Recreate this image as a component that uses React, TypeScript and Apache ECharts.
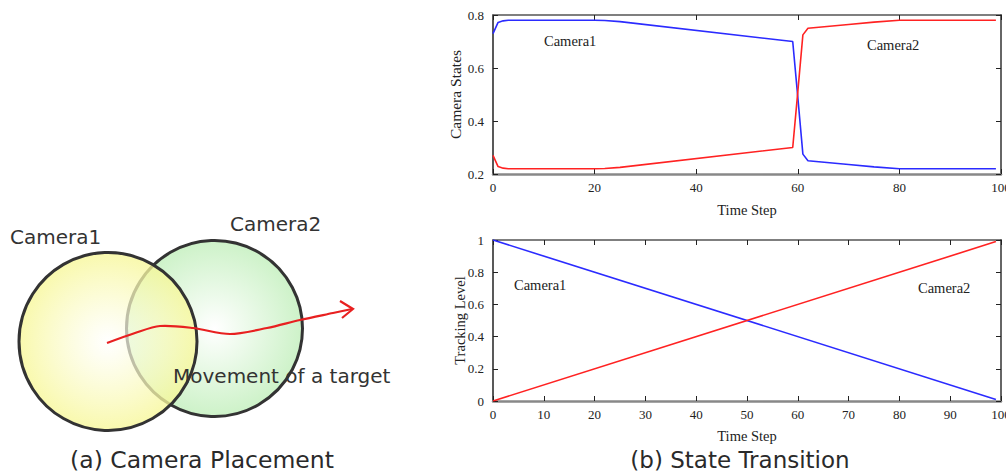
import React, { useEffect, useRef } from "react";
import * as echarts from "echarts";

// ---- data ----
const stateSteps = [0, 1, 2, 3, 20, 22, 25, 59, 60, 61, 62, 70, 75, 80, 99];
const camera1State = [0.73, 0.772, 0.778, 0.78, 0.78, 0.779, 0.775, 0.7, 0.49, 0.275, 0.25, 0.236, 0.227, 0.22, 0.22];
const camera2State = [0.27, 0.228, 0.222, 0.22, 0.22, 0.221, 0.225, 0.3, 0.51, 0.725, 0.75, 0.764, 0.773, 0.78, 0.78];

const levelSteps = [0, 99];
const camera1Level = [1, 0.01];
const camera2Level = [0, 0.99];

const stateYTicks = { min: 0.2, max: 0.8, interval: 0.2 };
const levelYTicks = { min: 0, max: 1, interval: 0.2 };
const stateXTicks = { min: 0, max: 100, interval: 20 };
const levelXTicks = { min: 0, max: 100, interval: 10 };

const BLUE = "#2b2bff";
const RED = "#ff2222";
const SERIF = "Liberation Serif";
const SANS = "DejaVu Sans";

function pairs(xs: number[], ys: number[]) {
  return xs.map((x, i) => [x, ys[i]]);
}

export default function App() {
  const ref = useRef<HTMLDivElement>(null);
  useEffect(() => {
    if (!ref.current) return;
    const chart = echarts.init(ref.current, undefined, { renderer: "svg" });

    const tickLabel = { color: "#222", fontFamily: SERIF, fontSize: 13 };
    const nameStyle = (fontSize: number) => ({ color: "#222", fontFamily: SERIF, fontSize });
    const tick = { inside: true, length: 5, lineStyle: { color: "#222", width: 1 } };

    const mkX = (grid: number, t: any, name?: string, gap?: number) => [
      {
        gridIndex: grid, type: "value", ...t, position: "bottom",
        axisLine: { onZero: false, lineStyle: { color: "#888", width: 2.5 } },
        axisTick: tick, splitLine: { show: false },
        axisLabel: { ...tickLabel, margin: 7 },
        name, nameLocation: "middle", nameGap: gap, nameTextStyle: nameStyle(14.5),
        nameMoveOverlap: false,
      },
      {
        gridIndex: grid, type: "value", ...t, position: "top",
        axisLine: { onZero: false, lineStyle: { color: "#555", width: 1.5 } },
        axisTick: tick, splitLine: { show: false }, axisLabel: { show: false },
      },
    ];
    const mkY = (grid: number, t: any, name: string, gap: number, fs: number) => [
      {
        gridIndex: grid, type: "value", ...t, position: "left",
        axisLine: { onZero: false, lineStyle: { color: "#222", width: 1.5 } },
        axisTick: tick, splitLine: { show: false },
        axisLabel: { ...tickLabel, margin: 9 },
        name, nameLocation: "middle", nameGap: gap, nameTextStyle: nameStyle(fs),
        nameMoveOverlap: false,
      },
      {
        gridIndex: grid, type: "value", ...t, position: "right",
        axisLine: { onZero: false, lineStyle: { color: "#666", width: 2 } },
        axisTick: tick, splitLine: { show: false }, axisLabel: { show: false },
      },
    ];

    const line = (xi: number, yi: number, data: number[][], color: string) => ({
      type: "line", xAxisIndex: xi, yAxisIndex: yi, data, showSymbol: false, symbol: "none",
      lineStyle: { color, width: 1.6 }, itemStyle: { color },
    });

    const txt = (x: number, y: number, text: string, fontSize: number, fontFamily: string, extra: any = {}) => ({
      type: "text", x, y, z: 100,
      style: { text, fontSize, fontFamily, fill: "#222", textVerticalAlign: "middle", ...extra },
    });

    chart.setOption({
      animation: false,
      backgroundColor: "#ffffff",
      grid: [
        { left: 493, top: 15, width: 508, height: 159, outerBoundsMode: "none", containLabel: false },
        { left: 493, top: 240, width: 508, height: 161, outerBoundsMode: "none", containLabel: false },
      ],
      xAxis: [...mkX(0, stateXTicks, "Time Step", 28), ...mkX(1, levelXTicks, "Time Step", 27)],
      yAxis: [...mkY(0, stateYTicks, "Camera States", 30, 15.5), ...mkY(1, levelYTicks, "Tracking Level", 26, 14.5)],
      series: [
        line(0, 0, pairs(stateSteps, camera1State), BLUE),
        line(0, 0, pairs(stateSteps, camera2State), RED),
        line(2, 2, pairs(levelSteps, camera1Level), BLUE),
        line(2, 2, pairs(levelSteps, camera2Level), RED),
      ],
      graphic: [
        // Camera placement diagram
        {
          type: "circle", z: 1,
          shape: { cx: 214.5, cy: 328.5, r: 88 },
          style: {
            fill: new echarts.graphic.RadialGradient(0.5, 0.5, 0.5, [
              { offset: 0, color: "#ffffff" },
              { offset: 1, color: "#cdf2c8" },
            ]),
            stroke: "#333", lineWidth: 3,
          },
        },
        {
          type: "circle", z: 2,
          shape: { cx: 108, cy: 341.5, r: 89 },
          style: {
            fill: new echarts.graphic.RadialGradient(0.5, 0.5, 0.5, [
              { offset: 0, color: "rgba(255,255,255,0.65)" },
              { offset: 1, color: "rgba(247,247,150,0.78)" },
            ]),
            stroke: "#333", lineWidth: 3,
          },
        },
        {
          type: "polyline", z: 3,
          shape: {
            points: [[107, 343], [135, 333], [160, 326], [193, 328], [230, 334], [267, 328], [300, 320], [333, 313], [352, 309]],
            smooth: 0.3,
          },
          style: { stroke: "#e82020", lineWidth: 2.2, fill: null },
        },
        {
          type: "polyline", z: 3,
          shape: { points: [[340, 301], [353, 309], [342, 318]] },
          style: { stroke: "#e82020", lineWidth: 2.2, fill: null },
        },
        txt(10, 237, "Camera1", 20, SANS, { fill: "#333" }),
        txt(230, 224, "Camera2", 20, SANS, { fill: "#333" }),
        txt(173, 376, "Movement of a target", 20, SANS, { fill: "#333" }),
        // captions
        txt(202, 460, "(a) Camera Placement", 23.5, SANS, { fill: "#2a2a2a", textAlign: "center" }),
        txt(740, 460, "(b) State Transition", 23, SANS, { fill: "#2a2a2a", textAlign: "center" }),
        // chart annotations
        txt(544, 41, "Camera1", 14.5, SERIF),
        txt(867, 45, "Camera2", 14.5, SERIF),
        txt(514, 285, "Camera1", 14.5, SERIF),
        txt(918, 288, "Camera2", 14.5, SERIF),
      ],
    });
    return () => chart.dispose();
  }, []);
  return (
    <div
      ref={ref}
      style={{ position: "absolute", left: 0, top: 0, width: 1006, height: 474, background: "#fff" }}
    />
  );
}
